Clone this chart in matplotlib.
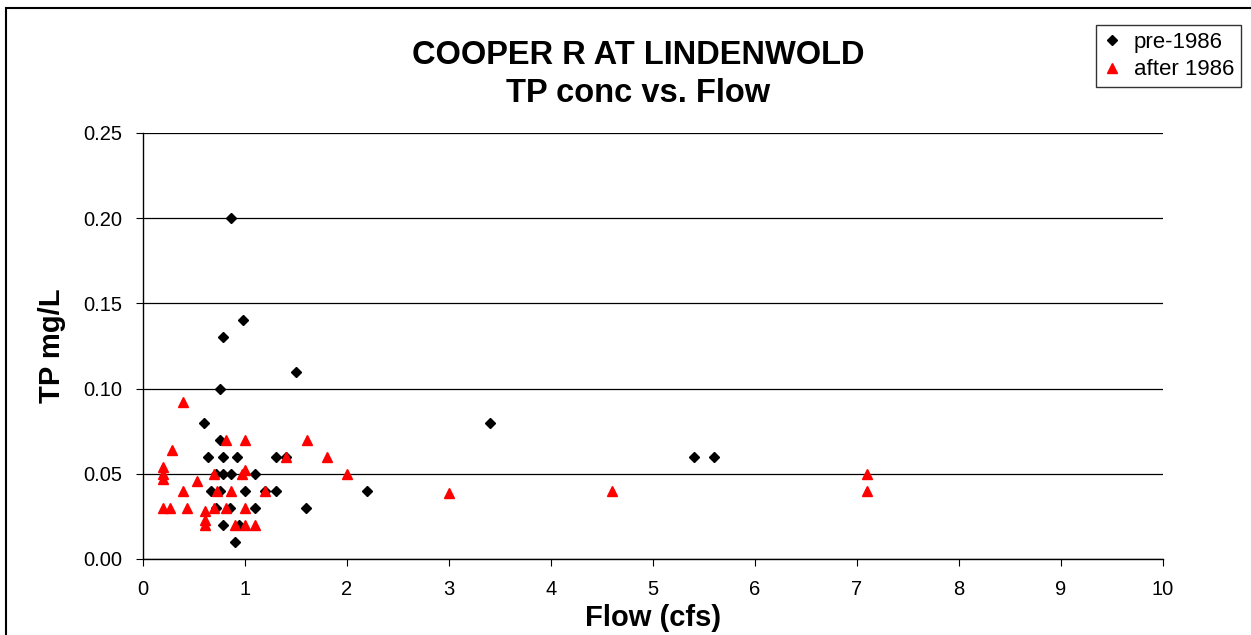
"""
COOPER R AT LINDENWOLD - TP conc vs. Flow scatter
出力: out.png
"""

import matplotlib.pyplot as plt
from matplotlib.patches import Rectangle

plt.rcParams["font.family"] = ["Liberation Sans", "DejaVu Sans"]

# ── 1. データ ───────────────────────────────────────────
pre_flow = [0.75, 0.6, 0.75, 0.64, 0.78, 0.92, 1.3, 0.72, 0.78, 0.86, 1.1,
            0.67, 0.75, 1.0, 1.2, 1.3, 0.72, 0.85, 1.1, 1.6, 0.78, 0.94, 0.9,
            0.86, 0.98, 0.78, 1.5, 3.4, 5.4, 5.6, 2.2, 1.4]
pre_tp = [0.10, 0.08, 0.07, 0.06, 0.06, 0.06, 0.06, 0.05, 0.05, 0.05, 0.05,
          0.04, 0.04, 0.04, 0.04, 0.04, 0.03, 0.03, 0.03, 0.03, 0.02, 0.02, 0.01,
          0.20, 0.14, 0.13, 0.11, 0.08, 0.06, 0.06, 0.04, 0.06]

post_flow = [0.39, 0.81, 1.0, 1.61, 0.28, 1.4, 1.8, 0.2, 0.2, 0.2, 0.7, 0.97,
             1.0, 2.0, 0.53, 0.39, 0.73, 0.86, 1.2, 0.2, 0.26, 0.43, 0.61, 0.7,
             0.81, 1.0, 0.61, 0.61, 0.9, 1.0, 1.1, 3.0, 4.6, 7.1, 7.1]
post_tp = [0.092, 0.07, 0.07, 0.07, 0.064, 0.06, 0.06, 0.054, 0.050, 0.047, 0.05, 0.05,
           0.052, 0.05, 0.046, 0.04, 0.04, 0.04, 0.04, 0.03, 0.03, 0.03, 0.028, 0.03,
           0.03, 0.03, 0.023, 0.02, 0.02, 0.02, 0.02, 0.039, 0.04, 0.05, 0.04]

# ── 2. 描画 ──────────────────────────────────────────────
fig = plt.figure(figsize=(12.51, 6.35), dpi=100)
ax = fig.add_axes([143 / 1251, 1 - 559 / 635, 1020 / 1251, 426 / 635])

ax.plot(pre_flow, pre_tp, "D", color="black", markersize=5.5, linestyle="none",
        label="pre-1986", zorder=3)
ax.plot(post_flow, post_tp, "^", color="red", markersize=7, linestyle="none",
        label="after 1986", zorder=3)

ax.set_xlim(0, 10)
ax.set_ylim(0, 0.25)
ax.set_xticks(range(0, 11))
ax.set_yticks([0, 0.05, 0.10, 0.15, 0.20, 0.25])
ax.set_yticklabels(["0.00", "0.05", "0.10", "0.15", "0.20", "0.25"])
ax.tick_params(direction="out", length=5, labelsize=14.5, color="black", pad=10)
ax.yaxis.grid(True, color="black", linewidth=0.9)
ax.set_axisbelow(True)
for s in ["top", "right"]:
    ax.spines[s].set_visible(False)
for s in ["left", "bottom"]:
    ax.spines[s].set_linewidth(1.0)

ax.set_xlabel("Flow (cfs)", fontsize=21, fontweight="bold", labelpad=4)
ax.set_ylabel("TP mg/L", fontsize=21, fontweight="bold", labelpad=12)

fig.text(638 / 1251, 1 - 55 / 635, "COOPER R AT LINDENWOLD", ha="center", va="center",
         fontsize=23.5, fontweight="bold")
fig.text(638 / 1251, 1 - 93 / 635, "TP conc vs. Flow", ha="center", va="center",
         fontsize=23.5, fontweight="bold")

leg = fig.legend(loc="upper right", bbox_to_anchor=(1241 / 1251, 1 - 25 / 635),
                 fontsize=16, frameon=True, fancybox=False, handlelength=0.8,
                 handletextpad=0.6, borderpad=0.3, labelspacing=0.3, borderaxespad=0)
leg.get_frame().set_edgecolor("black")
leg.get_frame().set_linewidth(1.0)

fig.patches.append(Rectangle((6 / 1251, -0.1), 1.2, 1 - 8 / 635 + 0.1,
                             transform=fig.transFigure, fill=False,
                             edgecolor="black", linewidth=1.5))

plt.savefig("out.png", dpi=100)
print("保存完了: out.png")
